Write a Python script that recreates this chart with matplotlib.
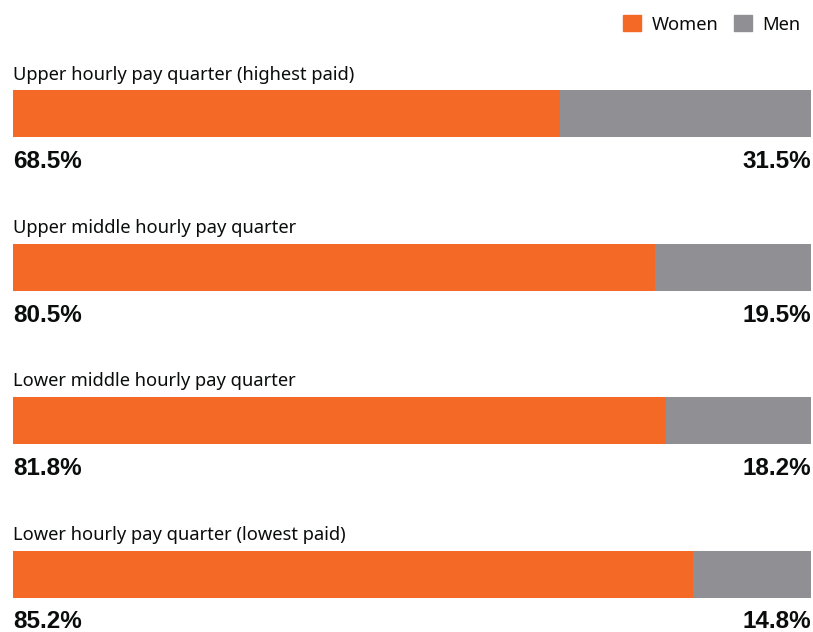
import matplotlib.pyplot as plt
from matplotlib.patches import Patch

categories = [
    "Upper hourly pay quarter (highest paid)",
    "Upper middle hourly pay quarter",
    "Lower middle hourly pay quarter",
    "Lower hourly pay quarter (lowest paid)",
]
women = [68.5, 80.5, 81.8, 85.2]
men = [31.5, 19.5, 18.2, 14.8]

orange = "#f36925"
grey = "#909094"

W, H = 813, 632
fig = plt.figure(figsize=(W / 100, H / 100), dpi=100)
ax = fig.add_axes([13 / W, 0, 798 / W, 1])
ax.set_xlim(0, 100)
ax.set_ylim(H, 0)  # y in pixel units, top down
ax.axis("off")

for i, cat in enumerate(categories):
    yc = 113.5 + i * 153.5
    ax.barh(yc, women[i], height=47, color=orange, left=0)
    ax.barh(yc, men[i], height=47, color=grey, left=women[i])
    ax.text(0, yc - 39, cat, fontsize=13.2, family="Noto Sans", color="#0b0c0c",
            ha="left", va="center")
    ax.text(0, yc + 48, f"{women[i]:.1f}%", fontsize=17.5, family="Liberation Sans",
            fontweight="bold", color="#0b0c0c", ha="left", va="center")
    ax.text(100, yc + 48, f"{men[i]:.1f}%", fontsize=17.5, family="Liberation Sans",
            fontweight="bold", color="#0b0c0c", ha="right", va="center")

handles = [Patch(color=orange, label="Women"), Patch(color=grey, label="Men")]
fig.legend(handles=handles, loc="upper right", bbox_to_anchor=(808 / W, 1 - 8 / H),
           ncol=2, frameon=False, handlelength=0.95, handleheight=0.95,
           handletextpad=0.6, columnspacing=0.85, borderaxespad=0,
           prop={"family": "Noto Sans", "size": 13.2}, labelcolor="#0b0c0c")

fig.savefig("out.png", dpi=100)
